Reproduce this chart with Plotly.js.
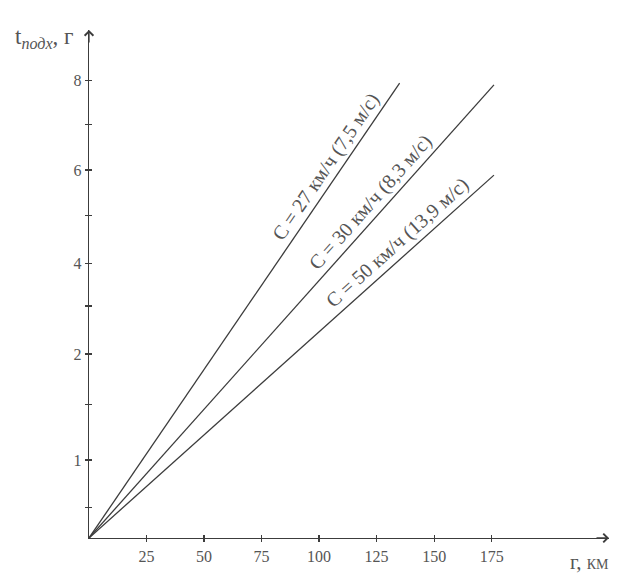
<!DOCTYPE html>
<html>
<head>
<meta charset="utf-8">
<script src="https://cdn.plot.ly/plotly-3.0.1.min.js"></script>
<style>html,body{margin:0;padding:0;background:#fff;}#chart{width:638px;height:575px;}</style>
</head>
<body>
<div id="chart"></div>
<script>
// ---- data ----
const xTickVals = [25, 50, 75, 100, 125, 150, 175];          // r, km
const yTickLabels = ['1', '2', '4', '6', '8'];               // t, hours (printed labels)
const yTickPos = [1.365, 3.22, 4.80, 6.44, 8.0];             // where the printed labels sit on the axis
const yMinorPos = [0.54, 2.33, 4.06, 5.65, 7.23];            // unlabeled tick marks
const seriesNames = ['C = 27 км/ч (7,5 м/с)', 'C = 30 км/ч (8,3 м/с)', 'C = 50 км/ч (13,9 м/с)'];
const seriesR = [[0, 135], [0, 176], [0, 176]];
const seriesT = [[0, 7.96], [0, 7.93], [0, 6.35]];
const labelFrac = [0.80, 0.72, 0.785];

// ---- layout geometry ----
const W = 638, H = 575;
const margin = {l: 89, r: 29, t: 30, b: 37};
const xRange = [0, 226];
const yRange = [0, 8.89];
const plotW = W - margin.l - margin.r, plotH = H - margin.t - margin.b;
const sx = plotW / (xRange[1] - xRange[0]);
const sy = plotH / (yRange[1] - yRange[0]);

const lineColor = '#3c3c3c';
const textColor = '#555';
const serif = 'Liberation Serif, Times New Roman, serif';

const traces = seriesNames.map((n, i) => ({
  x: seriesR[i], y: seriesT[i], type: 'scatter', mode: 'lines', name: n,
  line: {color: lineColor, width: 1.3}, showlegend: false, hoverinfo: 'skip'
}));
// same first series on the overlay axes (invisible) so that the crossing tick marks are drawn
traces.push({x: seriesR[0], y: seriesT[0], xaxis: 'x2', yaxis: 'y2', type: 'scatter', mode: 'lines',
  line: {width: 0, color: 'rgba(0,0,0,0)'}, showlegend: false, hoverinfo: 'skip'});

// all y ticks (labeled + minor)
const yAllPos = [], yAllText = [];
yTickPos.forEach((p, i) => { yAllPos.push(yMinorPos[i], p); yAllText.push('', yTickLabels[i]); });

const annotations = [];
seriesNames.forEach((n, i) => {
  const x1 = seriesR[i][1], y1 = seriesT[i][1];
  const ang = Math.atan2(y1 * sy, x1 * sx);
  const f = labelFrac[i];
  const off = 14;
  annotations.push({
    x: x1 * f, y: y1 * f, xref: 'x', yref: 'y', text: n, showarrow: false,
    textangle: -ang * 180 / Math.PI, xanchor: 'center', yanchor: 'middle',
    xshift: -off * Math.sin(ang), yshift: off * Math.cos(ang),
    font: {family: serif, size: 20, color: textColor}
  });
});
// axis arrows
annotations.push({x: xRange[1], y: 0, xref: 'x', yref: 'y', ax: -14, ay: 0, text: '', showarrow: true,
  arrowhead: 4, arrowsize: 1.3, arrowwidth: 1.3, arrowcolor: lineColor, standoff: 0});
annotations.push({x: 0, y: yRange[1], xref: 'x', yref: 'y', ax: 0, ay: 14, text: '', showarrow: true,
  arrowhead: 4, arrowsize: 1.3, arrowwidth: 1.3, arrowcolor: lineColor, standoff: 0});
// axis titles
annotations.push({xref: 'paper', yref: 'paper', x: -0.086, y: 0.985, xanchor: 'center', yanchor: 'middle',
  text: 't<sub><i>подх</i></sub>, г', showarrow: false, font: {family: serif, size: 23, color: textColor}});
annotations.push({xref: 'paper', yref: 'paper', x: 0.963, y: -0.047, xanchor: 'center', yanchor: 'middle',
  text: 'г, <span style="font-size:14px">КМ</span>', showarrow: false, font: {family: serif, size: 21, color: textColor}});

const layout = {
  width: W, height: H, margin: margin,
  paper_bgcolor: '#fff', plot_bgcolor: '#fff', showlegend: false,
  xaxis: {range: xRange, showgrid: false, zeroline: false, showline: true, linecolor: lineColor, linewidth: 1.3,
    tickmode: 'array', tickvals: xTickVals, ticks: 'outside', ticklen: 3, tickwidth: 1.2, tickcolor: lineColor,
    tickfont: {family: serif, size: 16, color: textColor}, fixedrange: true},
  yaxis: {range: yRange, showgrid: false, zeroline: false, showline: true, linecolor: lineColor, linewidth: 1.3,
    tickmode: 'array', tickvals: yAllPos, ticktext: yAllText, ticks: 'outside', ticklen: 3, tickwidth: 1.2, tickcolor: lineColor,
    tickfont: {family: serif, size: 16, color: textColor}, fixedrange: true},
  xaxis2: {overlaying: 'x', anchor: 'y', side: 'bottom', range: xRange, showgrid: false, zeroline: false, showline: false,
    tickmode: 'array', tickvals: xTickVals, ticks: 'inside', ticklen: 3, tickwidth: 1.2, tickcolor: lineColor, showticklabels: false, fixedrange: true},
  yaxis2: {overlaying: 'y', anchor: 'x', side: 'left', range: yRange, showgrid: false, zeroline: false, showline: false,
    tickmode: 'array', tickvals: yAllPos, ticks: 'inside', ticklen: 3, tickwidth: 1.2, tickcolor: lineColor, showticklabels: false, fixedrange: true},
  annotations: annotations
};

Plotly.newPlot('chart', traces, layout, {staticPlot: true, displayModeBar: false});
</script>
</body>
</html>
